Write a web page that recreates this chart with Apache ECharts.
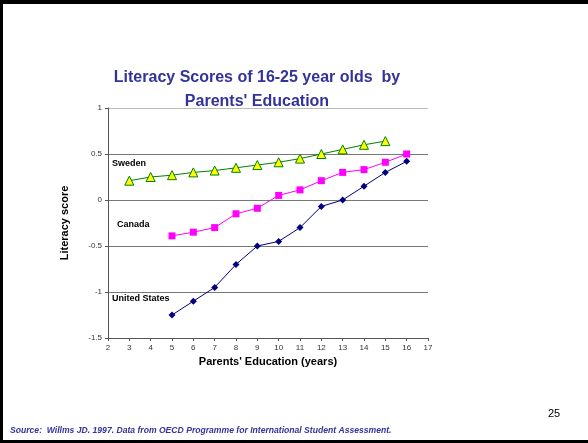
<!DOCTYPE html>
<html>
<head>
<meta charset="utf-8">
<style>
  html, body { margin: 0; padding: 0; background: #fff; }
  #chart { width: 588px; height: 443px; }
</style>
</head>
<body>
<div id="chart"></div>
<script src="https://cdn.jsdelivr.net/npm/echarts@6/dist/echarts.min.js"></script>
<script>
// parents' years of education
const swedenYears = [3, 4, 5, 6, 7, 8, 9, 10, 11, 12, 13, 14, 15];
const swedenScores = [0.21, 0.25, 0.27, 0.30, 0.32, 0.35, 0.38, 0.41, 0.45, 0.50, 0.55, 0.60, 0.64];

const canadaYears = [5, 6, 7, 8, 9, 10, 11, 12, 13, 14, 15, 16];
const canadaScores = [-0.39, -0.35, -0.30, -0.15, -0.09, 0.05, 0.11, 0.21, 0.30, 0.33, 0.41, 0.50];

const usYears = [5, 6, 7, 8, 9, 10, 11, 12, 13, 14, 15, 16];
const usScores = [-1.25, -1.10, -0.95, -0.70, -0.50, -0.45, -0.30, -0.07, 0.00, 0.15, 0.30, 0.42];

const zip = (xs, ys) => xs.map((x, i) => [x, ys[i]]);

const chart = echarts.init(document.getElementById('chart'));

const option = {
    animation: false,
    backgroundColor: '#fff',
    title: {
        text: "Literacy Scores of 16-25 year olds  by\nParents' Education",
        left: 252,
        top: 61,
        textAlign: 'center',
        textStyle: {
            fontFamily: 'Liberation Sans',
            fontSize: 16,
            fontWeight: 'bold',
            color: '#333399',
            lineHeight: 24
        }
    },
    grid: { left: 108, right: 160, top: 108, bottom: 105 },
    xAxis: {
        type: 'value',
        min: 2,
        max: 17,
        interval: 1,
        name: "Parents' Education (years)",
        nameLocation: 'middle',
        nameGap: 15,
        nameTextStyle: { fontFamily: 'Liberation Sans', fontSize: 11, fontWeight: 'bold', color: '#000' },
        axisLine: { onZero: false, lineStyle: { color: '#555', width: 1 } },
        axisTick: { length: 3, lineStyle: { color: '#555' } },
        axisLabel: { fontFamily: 'Liberation Sans', fontSize: 8, color: '#333', margin: 6 },
        splitLine: { show: false }
    },
    yAxis: {
        type: 'value',
        min: -1.5,
        max: 1,
        interval: 0.5,
        name: 'Literacy score',
        nameLocation: 'middle',
        nameGap: 38,
        nameTextStyle: { fontFamily: 'Liberation Sans', fontSize: 11, fontWeight: 'bold', color: '#000' },
        axisLine: { show: true, onZero: false, lineStyle: { color: '#555', width: 1 } },
        axisTick: { show: true, length: 3, lineStyle: { color: '#555' } },
        axisLabel: { fontFamily: 'Liberation Sans', fontSize: 8, color: '#333', margin: 6 },
        splitLine: { show: true, lineStyle: { color: ['#777', '#777', '#777', '#777', '#777', '#bbb'], width: 1 } }
    },
    graphic: [
        { type: 'text', left: 112, top: 159, style: { text: 'Sweden', font: 'bold 9px "Liberation Sans"', fill: '#000' } },
        { type: 'text', left: 117, top: 220, style: { text: 'Canada', font: 'bold 9px "Liberation Sans"', fill: '#000' } },
        { type: 'text', left: 112, top: 294, style: { text: 'United States', font: 'bold 9px "Liberation Sans"', fill: '#000' } },
        { type: 'text', left: 548, top: 408, style: { text: '25', font: '11px "Liberation Sans"', fill: '#000' } },
        { type: 'text', left: 10, top: 426, style: { text: 'Source:  Willms JD. 1997. Data from OECD Programme for International Student Assessment.', font: 'italic bold 8.6px "Liberation Sans"', fill: '#333399' } },
        // slide frame
        { type: 'rect', shape: { x: 0, y: 0, width: 588, height: 4 }, style: { fill: '#000' } },
        { type: 'rect', shape: { x: 0, y: 0, width: 3, height: 443 }, style: { fill: '#000' } },
        { type: 'rect', shape: { x: 0, y: 440, width: 588, height: 3 }, style: { fill: '#000' } }
    ],
    series: [
        {
            name: 'Sweden',
            type: 'line',
            data: zip(swedenYears, swedenScores),
            symbol: 'triangle',
            symbolSize: 9,
            lineStyle: { color: '#008000', width: 1 },
            itemStyle: { color: '#ffff00', borderColor: '#008000', borderWidth: 1 }
        },
        {
            name: 'Canada',
            type: 'line',
            data: zip(canadaYears, canadaScores),
            symbol: 'rect',
            symbolSize: 7,
            lineStyle: { color: '#ff00ff', width: 1 },
            itemStyle: { color: '#ff00ff' }
        },
        {
            name: 'United States',
            type: 'line',
            data: zip(usYears, usScores),
            symbol: 'diamond',
            symbolSize: 7,
            lineStyle: { color: '#000080', width: 1 },
            itemStyle: { color: '#000080' }
        }
    ]
};

chart.setOption(option);
</script>
</body>
</html>
